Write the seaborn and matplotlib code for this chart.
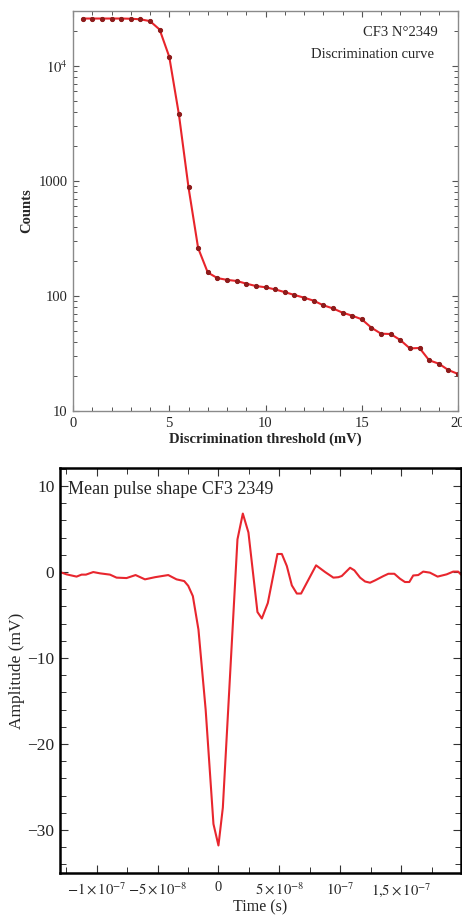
import numpy as np
import pandas as pd
import matplotlib
matplotlib.use("Agg")
import matplotlib.pyplot as plt
from matplotlib.ticker import FixedLocator, FixedFormatter, MultipleLocator, LogLocator, NullFormatter, FuncFormatter
import seaborn as sns

# Discrimination curve: counts vs threshold
threshold_mv = [0.5, 1.0, 1.5, 2.0, 2.5, 3.0, 3.5, 4.0, 4.5, 5.0,
                5.5, 6.0, 6.5, 7.0, 7.5, 8.0, 8.5, 9.0, 9.5, 10.0,
                10.5, 11.0, 11.5, 12.0, 12.5, 13.0, 13.5, 14.0, 14.5, 15.0,
                15.5, 16.0, 16.5, 17.0, 17.5, 18.0, 18.5, 19.0, 19.5, 20.0]
counts = [25800, 25800, 25800, 25800, 25800, 25700, 25400, 24500, 20700, 12000,
          3800, 880, 261, 160, 143, 138, 135, 128, 122, 119,
          114, 108, 102, 96.7, 91, 83, 78, 71.6, 67.4, 62.7,
          53, 47, 46.7, 41.4, 35, 35.3, 27.6, 25.8, 22.7, 21]

# Mean pulse shape: amplitude (mV) vs time (ns)
time_ns = [-130.0, -124.6, -116.4, -112.3, -108.7, -102.7, -97.2, -89.0, -83.6, -75.4,
           -68.0, -60.3, -52.1, -41.2, -34.4, -28.1, -24.8, -21.0, -16.4, -10.5,
           -4.1, 0.0, 3.6, 9.6, 15.6, 20.0, 24.6, 32.0, 35.6, 40.5,
           44.6, 48.4, 52.0, 56.1, 60.2, 64.3, 67.8, 80.1, 87.5, 94.3,
           98.4, 101.2, 108.0, 111.5, 116.2, 120.3, 124.4, 128.5, 135.3, 139.4,
           144.3, 148.9, 153.0, 156.6, 159.8, 163.9, 168.0, 173.5, 179.8, 187.2,
           192.6, 196.7, 199.0]
amplitude_mv = [0.0, -0.27, -0.53, -0.3, -0.3, 0.0, -0.15, -0.3, -0.65, -0.7,
                -0.35, -0.85, -0.6, -0.35, -0.85, -1.05, -1.6, -2.8, -6.7, -16.0,
                -29.3, -31.8, -27.4, -11.8, 3.8, 6.8, 4.6, -4.65, -5.4, -3.6,
                -0.65, 2.1, 2.1, 0.7, -1.55, -2.5, -2.5, 0.78, 0.0, -0.65,
                -0.6, -0.46, 0.5, 0.2, -0.65, -1.1, -1.24, -0.97, -0.47, -0.2,
                -0.2, -0.77, -1.16, -1.16, -0.4, -0.35, 0.05, -0.07, -0.53, -0.27,
                0.05, 0.05, -0.3]

time_ticks = [-1e-7, -5e-8, 0, 5e-8, 1e-7, 1.5e-7]
time_tick_labels = [r"$-1\times10^{-7}$", r"$-5\times10^{-8}$", "0",
                    r"$5\times10^{-8}$", r"$10^{-7}$", r"$1{,}5\times10^{-7}$"]
count_ticks = [10, 100, 1000, 10000]
count_tick_labels = ["10", "100", "1000", r"$10^4$"]

sns.set_theme(style="ticks")
plt.rcParams["font.family"] = ["Liberation Serif", "DejaVu Serif"]
plt.rcParams["mathtext.fontset"] = "stix"

disc = pd.DataFrame({"threshold": threshold_mv, "counts": counts})
pulse = pd.DataFrame({"time": np.array(time_ns) * 1e-9, "amplitude": amplitude_mv})

fig = plt.figure(figsize=(4.62, 9.16), dpi=100)

# ---- top: discrimination curve ----
ax1 = fig.add_axes([73 / 462, 1 - 411 / 916, 385 / 462, 400 / 916])
sns.lineplot(data=disc, x="threshold", y="counts", ax=ax1, color="#e8242b",
             linewidth=1.5, marker="o", markersize=3.0,
             markerfacecolor="#8e1b1b", markeredgecolor="#8e1b1b")
ax1.set_yscale("log")
ax1.set_xlim(0, 20)
ax1.set_ylim(10, 30000)
ax1.xaxis.set_major_locator(MultipleLocator(5))
ax1.xaxis.set_minor_locator(MultipleLocator(1))
ax1.yaxis.set_major_locator(FixedLocator(count_ticks))
ax1.yaxis.set_major_formatter(FixedFormatter(count_tick_labels))
ax1.yaxis.set_minor_locator(LogLocator(base=10, subs=np.arange(2, 10)))
ax1.yaxis.set_minor_formatter(NullFormatter())
for sp in ax1.spines.values():
    sp.set_visible(True)
    sp.set_color("#8a8a8a")
    sp.set_linewidth(1.0)
ax1.tick_params(which="both", direction="in", top=True, right=True,
                color="#555555", labelsize=10.5, pad=4)
ax1.tick_params(which="major", length=4.5, width=0.8)
ax1.tick_params(which="minor", length=3, width=0.7)
ax1.set_xlabel("Discrimination threshold (mV)", fontsize=10.5, fontweight="bold", labelpad=2)
ax1.set_ylabel("Counts", fontsize=10.5, fontweight="bold", labelpad=4)
ax1.text(0.995 - 18 / 385, 1 - 22 / 400, "CF3 N\u00b02349", transform=ax1.transAxes,
         ha="right", va="center", fontsize=10.5)
ax1.text(0.995 - 22 / 385, 1 - 43 / 400, "Discrimination curve", transform=ax1.transAxes,
         ha="right", va="center", fontsize=10.5)

# ---- bottom: mean pulse shape ----
ax2 = fig.add_axes([60 / 462, 1 - 873 / 916, 401 / 462, 405 / 916])
sns.lineplot(data=pulse, x="time", y="amplitude", ax=ax2, color="#e8262e", linewidth=1.5)
ax2.set_xlim(-1.3e-7, 1.99e-7)
ax2.set_ylim(-35, 12.1)
ax2.xaxis.set_major_locator(FixedLocator(time_ticks))
ax2.xaxis.set_major_formatter(FixedFormatter(time_tick_labels))
ax2.xaxis.set_minor_locator(MultipleLocator(2.5e-8))
ax2.yaxis.set_major_locator(MultipleLocator(10))
ax2.yaxis.set_minor_locator(MultipleLocator(2))
ax2.yaxis.set_major_formatter(FuncFormatter(
    lambda v, p: f"{int(round(v))}".replace("-", "\u2212")))
for sp in ax2.spines.values():
    sp.set_visible(True)
    sp.set_color("black")
    sp.set_linewidth(1.8)
ax2.tick_params(which="both", direction="in", top=True, right=True, color="#333333")
ax2.tick_params(axis="y", labelsize=12.5, pad=4)
ax2.tick_params(axis="x", labelsize=10.5, pad=6)
ax2.tick_params(which="major", length=6, width=0.8)
ax2.tick_params(which="minor", length=4, width=0.7)
ax2.set_xlabel("Time (s)", fontsize=11.5, labelpad=0)
ax2.set_ylabel("Amplitude (mV)", fontsize=12.5, labelpad=2)
ax2.text(8 / 401, 1 - 22 / 405, "Mean pulse shape CF3 2349", transform=ax2.transAxes,
         ha="left", va="center", fontsize=13)

fig.savefig("out.png", dpi=100)
